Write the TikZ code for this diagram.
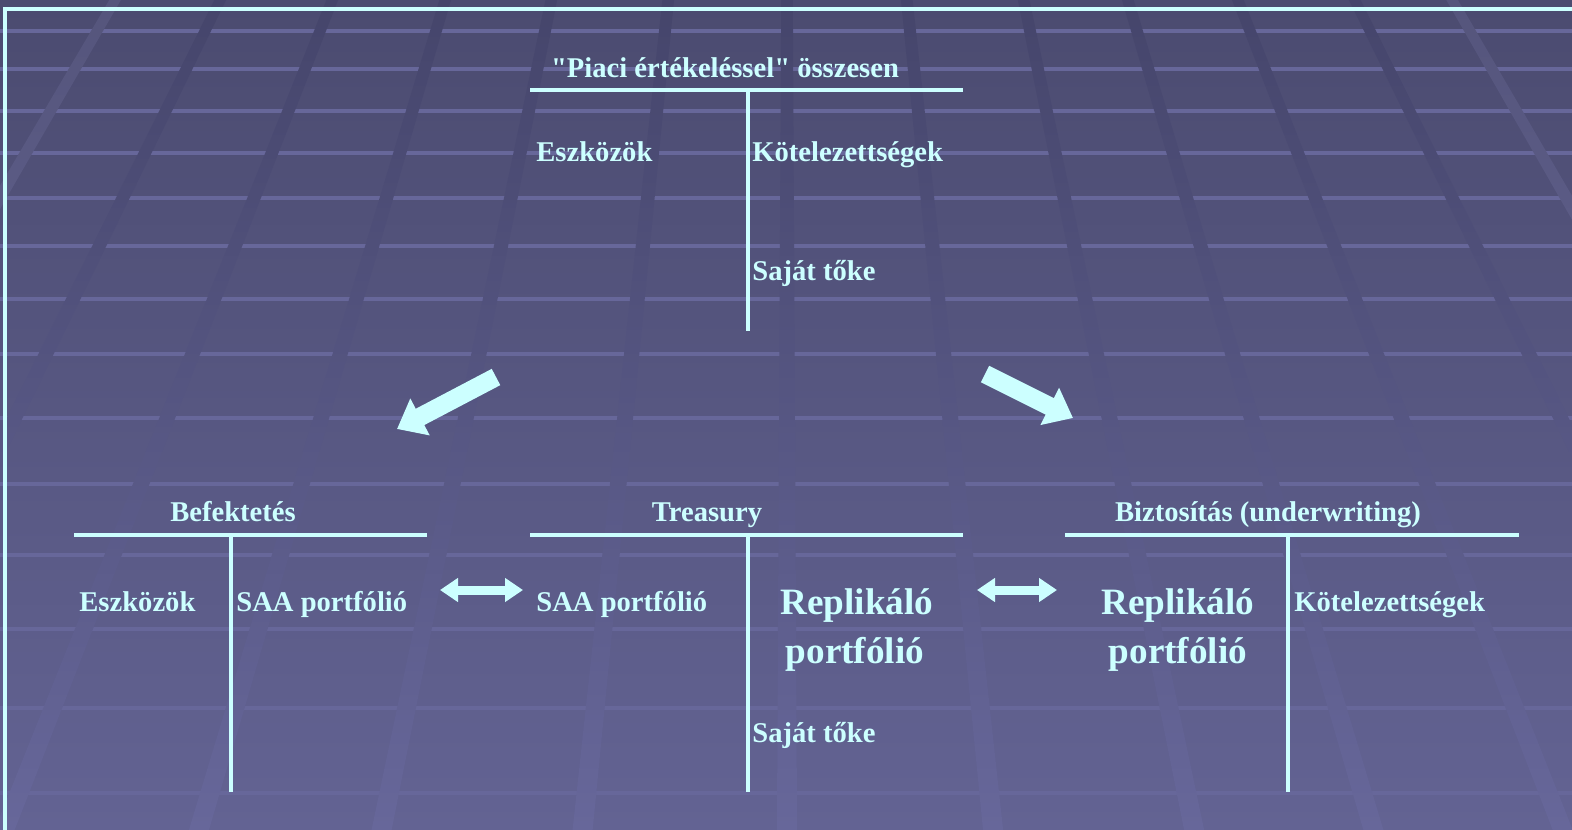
\documentclass[tikz,border=0pt]{standalone}
\usepackage{fontspec}
\setmainfont{Liberation Serif}[Ligatures=TeXOff]
\usetikzlibrary{calc}
\usetikzlibrary{arrows.meta}
\usepackage{xcolor}
\definecolor{tcyan}{HTML}{CCFFFF}
\definecolor{bgtop}{HTML}{4B4B70}
\definecolor{bgbot}{HTML}{636393}
\definecolor{sttop}{HTML}{45456B}
\definecolor{stbot}{HTML}{67679A}
\definecolor{edtop}{HTML}{55557C}
\definecolor{edbot}{HTML}{6B6B9E}
\definecolor{hline}{HTML}{67679A}

\begin{document}
\begin{tikzpicture}[x=0.5pt,y=-0.5pt,
	cimke/.style={text=tcyan,inner sep=0pt,font=\fontsize{14.3}{17}\selectfont\bfseries},
	nagy/.style={text=tcyan,inner sep=0pt,font=\fontsize{18.6}{23}\selectfont\bfseries},
	tvonal/.style={draw=tcyan,line width=1.8pt},
	nyil/.style={draw=tcyan,line width=9.2pt,-{Triangle[width=20pt,length=13pt]}},
	kettos/.style={draw=tcyan,line width=4.5pt,{Triangle[width=11.5pt,length=9pt]}-{Triangle[width=11.5pt,length=9pt]}}]
			\useasboundingbox (0,0) rectangle (1572,829);
			\clip (0,0) rectangle (1572,829);
			%háttér
			\shade[top color=bgtop,bottom color=bgbot] (0,0) rectangle (1572,829);
			\foreach \hy in {31,69,111,153,198,246,299,354,418,484,555,629,708,793}
				\draw[hline,line width=2pt] (0,\hy) -- (1572,\hy);
			\coordinate (vp) at (787,-1152);
			\foreach \sx in {205,320,436,545,665,787,910,1030,1137,1250,1370}{
				\begin{scope}
					\clip (vp) -- ($(vp)!1.8!(\sx-6,31)$) -- ($(vp)!1.8!(\sx+6,31)$) -- cycle;
					\shade[top color=sttop,bottom color=stbot] (0,0) rectangle (1572,829);
				\end{scope}
			}
			\foreach \sx in {97,1470}{
				\begin{scope}
					\clip (vp) -- ($(vp)!1.8!(\sx-6,31)$) -- ($(vp)!1.8!(\sx+6,31)$) -- cycle;
					\shade[top color=edtop,bottom color=edbot] (0,0) rectangle (1572,829);
				\end{scope}
			}
			\draw[tcyan,line width=2pt] (5,1000) -- (5,9) -- (1700,9);
			%összesen
			\node[cimke,anchor=base] (cim) at (725,78) {"Piaci értékeléssel" összesen};
			\draw[tvonal] (530,90) -- (963,90);
			\draw[tvonal] (748,90) -- (748,331);
			\node[cimke,anchor=base west] (eszk0) at (536,162) {Eszközök};
			\node[cimke,anchor=base west] (kot0) at (752,162) {Kötelezettségek};
			\node[cimke,anchor=base west] (tok0) at (752,280) {Saját tőke};
			%nyilak
			\coordinate (bal1) at (496,377);
			\coordinate (bal2) at (397,429);
			\coordinate (jobb1) at (985,374);
			\coordinate (jobb2) at (1073,418);
			\draw[nyil] (bal1) -- (bal2);
			\draw[nyil] (jobb1) -- (jobb2);
			%Befektetés
			\node[cimke,anchor=base] (bef) at (233,521) {Befektetés};
			\draw[tvonal] (74,535) -- (427,535);
			\draw[tvonal] (231,535) -- (231,792);
			\node[cimke,anchor=base west] (eszk1) at (79,611) {Eszközök};
			\node[cimke,anchor=base west] (saa1) at (236,611) {SAA portfólió};
			%Treasury
			\node[cimke,anchor=base] (tre) at (707,521) {Treasury};
			\draw[tvonal] (530,535) -- (963,535);
			\draw[tvonal] (748,535) -- (748,792);
			\node[cimke,anchor=base west] (saa2) at (536,611) {SAA portfólió};
			\node[nagy,anchor=base] (rep2) at (857,614) {Replikáló};
			\node[nagy,anchor=base] (port2) at (855,663) {portfólió};
			\node[cimke,anchor=base west] (tok2) at (752,742) {Saját tőke};
			%Biztosítás
			\node[cimke,anchor=base] (bizt) at (1268,521) {Biztosítás (underwriting)};
			\draw[tvonal] (1065,535) -- (1519,535);
			\draw[tvonal] (1288,535) -- (1288,792);
			\node[nagy,anchor=base] (rep3) at (1178,614) {Replikáló};
			\node[nagy,anchor=base] (port3) at (1178,663) {portfólió};
			\node[cimke,anchor=base west] (kot3) at (1294,611) {Kötelezettségek};
			%kettős nyilak
			\coordinate (k1a) at (440,590);
			\coordinate (k1b) at (523,590);
			\coordinate (k2a) at (977,590);
			\coordinate (k2b) at (1057,590);
			\draw[kettos] (k1a) -- (k1b);
			\draw[kettos] (k2a) -- (k2b);
		\end{tikzpicture}
\end{document}
